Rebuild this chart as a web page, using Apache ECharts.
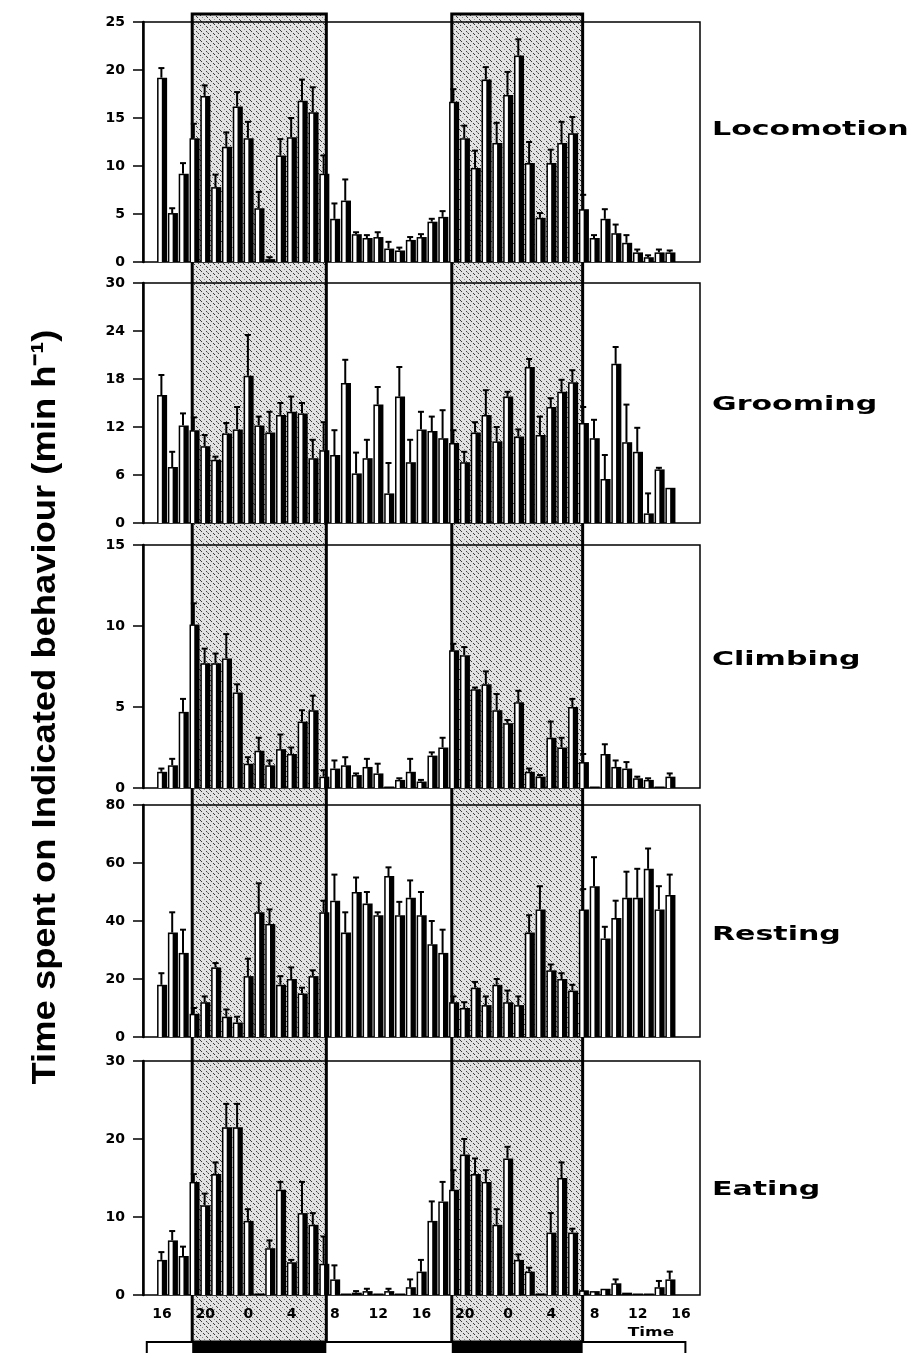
<!DOCTYPE html>
<html>
<head>
<meta charset="utf-8">
<script src="https://cdn.jsdelivr.net/npm/echarts@6/dist/echarts.min.js"></script>
<style>
html, body { margin: 0; padding: 0; background: #fff; }
#main { width: 913px; height: 1353px; }
</style>
</head>
<body>
<div id="main"></div>
<script>
// hour of each bar (16:00 day 1 ... 15:00 day 3), one bar per hour
var hours = [16,17,18,19,20,21,22,23,24,25,26,27,28,29,30,31,32,33,34,35,36,37,38,39,
             40,41,42,43,44,45,46,47,48,49,50,51,52,53,54,55,56,57,58,59,60,61,62,63];
var timeTicks = [16,20,24,28,32,36,40,44,48,52,56,60,64];
var timeLabels = ['16','20','0','4','8','12','16','20','0','4','8','12','16'];
// dark phases (hours on the same scale)
var darkPeriods = [[18.8, 31.2], [42.8, 54.9]];
var scheduleSpan = [14.6, 64.4];

var panelNames = ['Locomotion', 'Grooming', 'Climbing', 'Resting', 'Eating'];
var yMax = [25, 30, 15, 80, 30];
var yStep = [5, 6, 5, 20, 10];

var locoVal = [19.2,5.1,9.2,12.9,17.3,7.8,12.0,16.2,12.9,5.6,0.3,11.1,13.0,16.8,15.6,9.2,4.5,6.4,2.9,2.5,2.6,1.4,1.2,2.3,
               2.6,4.2,4.7,16.7,12.9,9.8,19.0,12.4,17.4,21.5,10.3,4.6,10.3,12.4,13.4,5.5,2.5,4.5,3.0,2.0,1.0,0.5,1.0,1.0];
var locoErr = [1.0,0.5,1.1,1.5,1.1,1.3,1.5,1.5,1.7,1.7,0.2,1.7,2.0,2.2,2.6,1.9,1.6,2.2,0.2,0.3,0.5,0.7,0.3,0.3,
               0.3,0.3,0.6,1.3,1.3,1.8,1.3,2.1,2.4,1.7,2.2,0.5,1.4,2.2,1.7,1.5,0.3,1.0,0.9,0.8,0.3,0.2,0.3,0.2];

var groomVal = [16.0,7.0,12.2,11.6,9.6,7.9,11.2,11.7,18.4,12.2,11.3,13.5,13.9,13.7,8.1,9.1,8.5,17.5,6.2,8.1,14.8,3.7,15.8,7.6,
                11.7,11.5,10.6,10.0,7.6,11.3,13.5,10.2,15.8,10.8,19.5,11.0,14.5,16.4,17.6,12.5,10.6,5.5,19.9,10.1,8.9,1.2,6.7,4.4];
var groomErr = [2.5,1.9,1.5,1.6,1.4,0.4,1.3,2.8,5.1,1.1,2.6,1.5,1.9,1.3,2.3,3.5,3.1,2.9,2.6,2.3,2.2,3.8,3.7,2.8,
                2.2,1.8,3.5,1.6,1.3,1.3,3.1,1.8,0.6,0.9,1.0,2.3,1.1,1.5,1.5,2.0,2.3,3.0,2.1,4.7,3.0,2.5,0.2,0];

var climbVal = [1.0,1.4,4.7,10.1,7.7,7.7,8.0,5.9,1.5,2.3,1.4,2.4,2.1,4.1,4.8,0.7,1.2,1.4,0.8,1.3,0.9,0,0.5,1.0,
                0.4,2.0,2.5,8.5,8.2,6.1,6.4,4.8,4.0,5.3,1.0,0.7,3.1,2.5,5.0,1.6,0,2.1,1.3,1.2,0.6,0.5,0,0.7];
var climbErr = [0.2,0.4,0.8,1.3,0.9,0.6,1.5,0.5,0.4,0.8,0.3,0.9,0.4,0.7,0.9,0.4,0.5,0.5,0.1,0.5,0.6,0,0.1,0.8,
                0.1,0.2,0.6,0.4,0.5,0.1,0.8,1.0,0.2,0.7,0.2,0.1,1.0,0.6,0.5,0.5,0,0.6,0.4,0.4,0.1,0.1,0,0.2];

var restVal = [18,36,29,8,12,24,7,5,21,43,39,18,20,15,21,43,47,36,50,46,42,55.5,42,48,
               42,32,29,12,10,17,11,18,12,11,36,44,23,20,16,44,52,34,41,48,48,58,44,49];
var restErr = [4,7,8,2,2,1.5,2.5,2,6,10,5,3,4,2,2,4,9,7,5,4,1,3,4.6,6,
               8,8,8,2,2,2,3,2,4,3,6,8,2,2,2,7,10,4,6,9,10,7,8,7];

var eatVal = [4.5,7,5,14.5,11.5,15.5,21.5,21.5,9.5,0.2,6,13.5,4.2,10.5,9,4,2,0,0.3,0.5,0,0.5,0,1,
              3,9.5,12,13.5,18,15.5,14.5,9,17.5,4.5,3,0.2,8,15,8,0.6,0.5,0.8,1.5,0.3,0,0,1,2];
var eatErr = [1,1.2,1.2,1,1.5,1.5,3,3,1.5,0,1,1,0.3,4,1.5,3.5,1.8,0,0.2,0.3,0,0.3,0,1,
              1.5,2.5,2.5,2.5,2,2,1.5,2,1.5,0.7,0.5,0,2.5,2,0.5,0,0,0,0.5,0,0,0,0.8,1];

var panelVals = [locoVal, groomVal, climbVal, restVal, eatVal];
var panelErrs = [locoErr, groomErr, climbErr, restErr, eatErr];

// panel boxes in px
var gridTop = [22, 283, 545, 805, 1061];
var gridHeight = [240, 240, 243, 232, 234];

var chart = echarts.init(document.getElementById('main'));

// black bar with a thin white strip on its left side, plus T shaped error bar
function renderBar(params, api) {
    var h = api.value(0), v = api.value(1), e = api.value(2);
    var base = api.coord([h, 0]);
    var top = api.coord([h, v]);
    var et = api.coord([h, v + e]);
    var w = api.size([1, 0])[0];
    var x0 = base[0] - w * 0.45;
    var hgt = Math.max(base[1] - top[1], 1.5);
    var kids = [
        { type: 'rect', shape: { x: x0, y: base[1] - hgt, width: w * 0.93, height: hgt }, style: { fill: '#000' } }
    ];
    if (hgt > 3) {
        kids.push({ type: 'rect', shape: { x: x0 + w * 0.14, y: base[1] - hgt + 1.5, width: w * 0.3, height: hgt - 1.5 }, style: { fill: '#fff' } });
    }
    if (e > 0) {
        var cx = base[0] - w * 0.05;
        kids.push({ type: 'line', shape: { x1: cx, y1: top[1], x2: cx, y2: et[1] }, style: { stroke: '#000', lineWidth: 2 } });
        kids.push({ type: 'line', shape: { x1: cx - 3, y1: et[1], x2: cx + 3, y2: et[1] }, style: { stroke: '#000', lineWidth: 2 } });
    }
    return { type: 'group', children: kids };
}

var grids = [], xAxes = [], yAxes = [], series = [];
for (var i = 0; i < 5; i++) {
    grids.push({
        left: 143, right: 213, top: gridTop[i], height: gridHeight[i],
        show: true, borderColor: '#000', borderWidth: 1.5, backgroundColor: 'transparent'
    });
    xAxes.push({
        type: 'value', gridIndex: i, min: 14.25, max: 65.75,
        axisLine: { show: false }, axisTick: { show: false }, splitLine: { show: false },
        axisLabel: {
            show: i === 4, customValues: timeTicks, margin: 12,
            fontFamily: 'DejaVu Sans', fontWeight: 'bold', fontSize: 14, color: '#000',
            formatter: function (v) { return timeLabels[timeTicks.indexOf(v)]; }
        }
    });
    yAxes.push({
        type: 'value', gridIndex: i, min: 0, max: yMax[i], interval: yStep[i],
        axisLine: { show: true, lineStyle: { color: '#000', width: 2.5 } },
        axisTick: { show: true, length: 10, lineStyle: { color: '#000', width: 1.5 } },
        splitLine: { show: false },
        axisLabel: { margin: 18, fontFamily: 'DejaVu Sans', fontWeight: 'bold', fontSize: 14, color: '#000' }
    });
    var data = [];
    for (var k = 0; k < hours.length; k++) data.push([hours[k], panelVals[i][k], panelErrs[i][k]]);
    series.push({
        type: 'custom', name: panelNames[i], xAxisIndex: i, yAxisIndex: i,
        renderItem: renderBar, data: data, encode: { x: 0, y: 1 }, z: 5
    });
}

chart.setOption({
    animation: false,
    backgroundColor: '#fff',
    grid: grids, xAxis: xAxes, yAxis: yAxes, series: series
});

// stippled dark-phase band
function makeStipple() {
    var c = document.createElement('canvas');
    c.width = 10; c.height = 10;
    var ctx = c.getContext('2d');
    ctx.fillStyle = '#e2e2e2';
    ctx.fillRect(0, 0, 10, 10);
    ctx.fillStyle = '#3a3a3a';
    for (var j = 0; j < 10; j++) {
        if (j % 3 !== 2) ctx.fillRect(j, j, 1, 1);
        if (j % 2 === 0) ctx.fillRect(j, (j + 5) % 10, 1, 1);
    }
    ctx.fillStyle = '#8a8a8a';
    ctx.fillRect(2, 7, 1, 1); ctx.fillRect(7, 2, 1, 1); ctx.fillRect(4, 9, 1, 1);
    return c;
}
var stipple = makeStipple();

function px(h) { return chart.convertToPixel({ xAxisIndex: 4 }, h); }

var graphics = [];
darkPeriods.forEach(function (p) {
    var a = px(p[0]), b = px(p[1]);
    graphics.push({
        type: 'rect', z: -10, silent: true,
        shape: { x: a, y: 14, width: b - a, height: 1342 - 14 },
        style: { fill: { image: stipple, repeat: 'repeat' }, stroke: '#000', lineWidth: 3 }
    });
});
var s0 = px(scheduleSpan[0]), s1 = px(scheduleSpan[1]);
graphics.push({
    type: 'rect', silent: true,
    shape: { x: s0, y: 1342, width: s1 - s0, height: 30 },
    style: { fill: '#fff', stroke: '#000', lineWidth: 2 }
});
darkPeriods.forEach(function (p) {
    var a = px(p[0]), b = px(p[1]);
    graphics.push({
        type: 'rect', silent: true,
        shape: { x: a, y: 1342, width: b - a, height: 30 },
        style: { fill: '#000' }
    });
});

var labelY = [130, 405, 660, 935, 1190];
panelNames.forEach(function (name, i) {
    graphics.push({
        type: 'text', x: 712, y: labelY[i], scaleX: 1.58, silent: true,
        style: { text: name, font: 'bold 19px "DejaVu Sans"', fill: '#000', align: 'left', verticalAlign: 'middle' }
    });
});
graphics.push({
    type: 'text', x: 651, y: 1333, scaleX: 1.3, silent: true,
    style: { text: 'Time', font: 'bold 13px "DejaVu Sans"', fill: '#000', align: 'center', verticalAlign: 'middle' }
});
graphics.push({
    type: 'text', x: 46, y: 707, rotation: Math.PI / 2, scaleX: 1.07, silent: true,
    style: { text: 'Time spent on Indicated behaviour (min h\u207B\u00B9)', font: 'bold 34px "Liberation Sans"', fill: '#000', align: 'center', verticalAlign: 'middle' }
});

chart.setOption({ graphic: graphics });
</script>
</body>
</html>
